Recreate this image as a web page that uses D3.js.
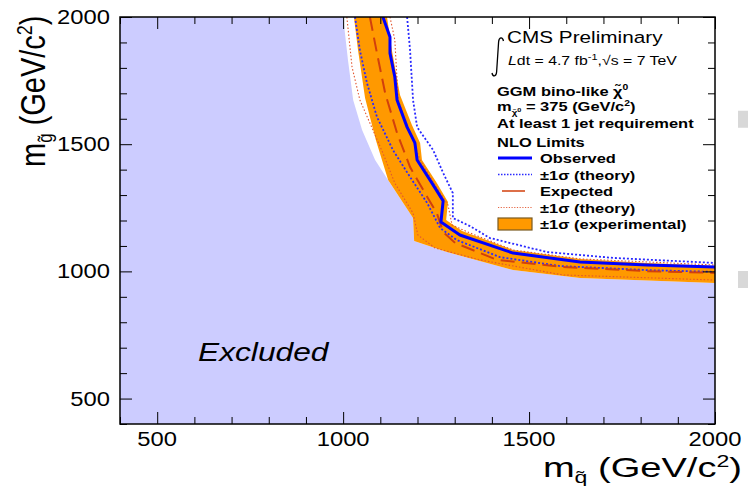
<!DOCTYPE html>
<html>
<head>
<meta charset="utf-8">
<script src="https://cdn.jsdelivr.net/npm/d3@7"></script>
<style>
  body { margin: 0; background: #fff; }
  svg { display: block; }
  text { font-family: "Liberation Sans", Arial, Helvetica, sans-serif; }
</style>
</head>
<body>
<svg id="chart" width="748" height="486"></svg>
<script>
// ---- axis ticks (GeV/c^2) ----
const squarkTicks = [500, 1000, 1500, 2000];
const gluinoTicks = [500, 1000, 1500, 2000];
const minorStep = 100;
const massRange = [400, 2000];

// ---- limit contours, [m_squark, m_gluino] in GeV/c^2 ----
const observed = [[1107,2000],[1126,1921],[1126,1858],[1139,1764],[1145,1674],[1172,1567],[1193,1505],[1199,1438],[1239,1347],[1269,1277],[1263,1194],[1314,1143],[1457,1072],[1637,1037],[1817,1025],[2000,1017]];
const observedUp = [[1172,2000],[1180,1870],[1188,1674],[1199,1567],[1242,1477],[1269,1387],[1295,1308],[1295,1210],[1341,1178],[1395,1131],[1548,1076],[1726,1053],[2000,1033]];
const observedDown = [[1032,2000],[1045,1870],[1064,1741],[1091,1607],[1134,1477],[1180,1371],[1226,1269],[1261,1170],[1306,1123],[1422,1056],[1583,1021],[1817,1005],[2000,998]];
const expected = [[1072,2000],[1091,1858],[1113,1701],[1145,1544],[1180,1410],[1220,1308],[1252,1229],[1269,1155],[1301,1112],[1414,1045],[1591,1017],[1817,1001],[2000,994]];
const expectedUp = [[1126,2000],[1139,1910],[1148,1674],[1180,1544],[1207,1438],[1247,1340],[1282,1261],[1293,1182],[1341,1151],[1457,1084],[1637,1049],[2000,1025]];
const expectedDown = [[1010,2000],[1024,1803],[1045,1674],[1072,1583],[1107,1465],[1139,1347],[1188,1229],[1201,1143],[1247,1092],[1368,1045],[1591,986],[2000,966]];
// experimental +-1 sigma band around the expected limit
const bandUpper = [[1118,2000],[1131,1870],[1153,1693],[1185,1575],[1207,1505],[1212,1438],[1252,1347],[1282,1273],[1277,1202],[1320,1159],[1457,1084],[1637,1049],[1817,1033],[2000,1021]];
const bandLower = [[1029,2000],[1040,1870],[1059,1682],[1088,1516],[1121,1359],[1188,1210],[1191,1119],[1279,1076],[1457,1005],[1637,974],[2000,954]];
// edge of the shaded excluded region
const excludedEdge = [[1000,2000],[1013,1831],[1027,1674],[1051,1556],[1086,1438],[1126,1347],[1188,1210],[1191,1119],[1279,1076],[1457,1005],[1637,974],[2000,954]];

// ---- legend ----
const legendEntries = [
  { label: "Observed",            kind: "observed" },
  { label: "\u00B11\u03C3 (theory)", kind: "observedTheory" },
  { label: "Expected",            kind: "expected" },
  { label: "\u00B11\u03C3 (theory)", kind: "expectedTheory" },
  { label: "\u00B11\u03C3 (experimental)", kind: "band" }
];

// ---- styles ----
const COL = {
  excluded: "#ccccff",
  band: "#ff9900",
  bandEdge: "#7a5a20",
  observed: "#0000ff",
  observedTheory: "#2a2aff",
  expected: "#d2400c",
  expectedTheory: "#e2552e"
};
const SX = 1.22; // horizontal text stretch

const svg = d3.select("#chart");
const plot = { left: 120, right: 715, top: 17, bottom: 424 };

const x = d3.scaleLinear().domain(massRange).range([plot.left, plot.right]);
const y = d3.scaleLinear().domain(massRange).range([plot.bottom, plot.top]);

const line = d3.line().x(d => x(d[0])).y(d => y(d[1]));

svg.append("defs").append("clipPath").attr("id", "plotClip")
  .append("rect")
  .attr("x", plot.left).attr("y", plot.top)
  .attr("width", plot.right - plot.left).attr("height", plot.bottom - plot.top);

const body = svg.append("g").attr("clip-path", "url(#plotClip)");

// excluded region: below/left of the edge
const excludedPoly = excludedEdge.concat([[massRange[1], massRange[0]], [massRange[0], massRange[0]], [massRange[0], massRange[1]]]);
body.append("path")
  .attr("d", line(excludedPoly) + "Z")
  .attr("fill", COL.excluded);

// experimental band
body.append("path")
  .attr("d", line(bandUpper.concat(bandLower.slice().reverse())) + "Z")
  .attr("fill", COL.band);

// theory variations of the expected limit
[expectedUp, expectedDown].forEach(s => body.append("path")
  .attr("d", line(s)).attr("fill", "none")
  .attr("stroke", COL.expectedTheory).attr("stroke-width", 1.1)
  .attr("stroke-dasharray", "1.5,2"));

// theory variations of the observed limit
[observedUp, observedDown].forEach(s => body.append("path")
  .attr("d", line(s)).attr("fill", "none")
  .attr("stroke", COL.observedTheory).attr("stroke-width", 1.8)
  .attr("stroke-dasharray", "2,2"));

// expected limit
body.append("path")
  .attr("d", line(expected)).attr("fill", "none")
  .attr("stroke", COL.expected).attr("stroke-width", 2)
  .attr("stroke-dasharray", "14,7");

// observed limit
body.append("path")
  .attr("d", line(observed)).attr("fill", "none")
  .attr("stroke", COL.observed).attr("stroke-width", 3)
  .attr("stroke-linejoin", "round");

// ---- axes (ticks drawn inward on all four sides) ----
const minorTicks = d3.range(massRange[0], massRange[1] + 1, minorStep).filter(v => v % 500 !== 0);
const axisSides = [
  [() => d3.axisBottom(x), `translate(0,${plot.bottom})`, squarkTicks],
  [() => d3.axisTop(x), `translate(0,${plot.top})`, squarkTicks],
  [() => d3.axisLeft(y), `translate(${plot.left},0)`, gluinoTicks],
  [() => d3.axisRight(y), `translate(${plot.right},0)`, gluinoTicks]
];
const axes = svg.append("g");
axisSides.forEach(([make, tr, major]) => {
  [[major, 12], [minorTicks, 7]].forEach(([vals, len]) => {
    const g = axes.append("g").attr("transform", tr)
      .call(make().tickValues(vals).tickSize(-len).tickSizeOuter(0).tickFormat(""));
    g.select(".domain").remove();
    g.selectAll("line").attr("stroke", "#000").attr("stroke-width", 1);
  });
});

svg.append("rect")
  .attr("x", plot.left).attr("y", plot.top)
  .attr("width", plot.right - plot.left).attr("height", plot.bottom - plot.top)
  .attr("fill", "none").attr("stroke", "#000").attr("stroke-width", 1.5);

// ---- text helpers ----
function stretched(px, py, o) {
  return svg.append("text")
    .attr("transform", `translate(${px},${py}) scale(${o.sx || SX},1)` + (o.rotate ? ` rotate(${o.rotate})` : ""))
    .attr("text-anchor", o.anchor || "start")
    .attr("font-size", o.size)
    .attr("font-weight", o.weight || "normal")
    .attr("font-style", o.style || "normal")
    .attr("fill", "#000");
}
// parts: [text, baselineShift, fontSize]
function addParts(t, parts, base) {
  let prev = 0;
  parts.forEach(([s, shift, size]) => {
    t.append("tspan").attr("dy", shift - prev).attr("font-size", size || base).text(s);
    prev = shift;
  });
  return t;
}

// tick labels
squarkTicks.forEach(v => stretched(x(v), 446, { anchor: "middle", size: 19.5 }).text(v));
gluinoTicks.forEach(v => stretched(110, y(v) + 7, { anchor: "end", size: 19.5 }).text(v));

// axis titles
addParts(stretched(742, 477, { anchor: "end", size: 28, sx: 1.36 }),
  [["m", 0], ["q\u0303", 6, 17], [" (GeV/c", 0], ["2", -10, 17], [")", 0]], 28);
addParts(stretched(45, 167, { anchor: "start", size: 29, rotate: -90 }),
  [["m", 0], ["g\u0303", 6, 17], [" (GeV/c", 0], ["2", -11, 18], [")", 0]], 29);

// region label
stretched(198, 361, { size: 26, style: "italic" }).text("Excluded");

// ---- header ----
svg.append("path")
  .attr("d", "M503.5,41 C502.5,36.5 499,37 498.6,42 L496.6,72 C496.2,77 492.8,77 492,73")
  .attr("fill", "none").attr("stroke", "#000").attr("stroke-width", 1.3);
stretched(507, 43, { size: 17 }).text("CMS Preliminary");
addParts(stretched(508, 65, { size: 13 }),
  [["L", 0], ["dt = 4.7 fb", 0], ["-1", -5, 9], [",\u221As = 7 TeV", 0]], 13)
  .select("tspan").attr("font-style", "italic");

const legendX = 497, labelX = 540, sampleX0 = 498, sampleX1 = 532;
addParts(stretched(legendX, 96, { size: 13.5, weight: "bold" }),
  [["GGM bino-like ", 0], ["\u03C7\u0303", 0], ["0", -6, 8.5]], 13.5);
addParts(stretched(legendX, 111, { size: 13.5, weight: "bold" }),
  [["m", 0], ["\u03C7\u0303", 3.5, 8], ["0", 1, 6], [" = 375 (GeV/c", 0], ["2", -5, 8.5], [")", 0]], 13.5);
stretched(legendX, 128, { size: 13.5, weight: "bold" }).text("At least 1 jet requirement");
stretched(legendX, 147, { size: 13.5, weight: "bold" }).text("NLO Limits");

const rowY = d3.scaleLinear().domain([0, 1]).range([163, 179.5]);
legendEntries.forEach((e, i) => {
  const by = rowY(i);
  const my = by - 5;
  stretched(labelX, by, { size: 13.5, weight: "bold" }).text(e.label);
  if (e.kind === "band") {
    svg.append("rect").attr("x", sampleX0).attr("y", my - 6).attr("width", sampleX1 - sampleX0).attr("height", 12)
      .attr("fill", COL.band).attr("stroke", COL.bandEdge).attr("stroke-width", 1.2);
    return;
  }
  const l = svg.append("line").attr("x1", sampleX0).attr("x2", sampleX1).attr("y1", my).attr("y2", my);
  if (e.kind === "observed") l.attr("stroke", COL.observed).attr("stroke-width", 3);
  if (e.kind === "observedTheory") l.attr("stroke", COL.observedTheory).attr("stroke-width", 1.6).attr("stroke-dasharray", "1.5,1.5");
  if (e.kind === "expected") l.attr("stroke", COL.expected).attr("stroke-width", 1.6).attr("stroke-dasharray", "0,4,23,100");
  if (e.kind === "expectedTheory") l.attr("stroke", COL.expectedTheory).attr("stroke-width", 0.9).attr("stroke-dasharray", "1.2,1.5");
});

// neighbouring panel markers at the right edge
[y(1600), y(970)].forEach(v => svg.append("rect")
  .attr("x", 738).attr("y", v - 8).attr("width", 10).attr("height", 17).attr("fill", "#d8d8d8"));
</script>
</body>
</html>
